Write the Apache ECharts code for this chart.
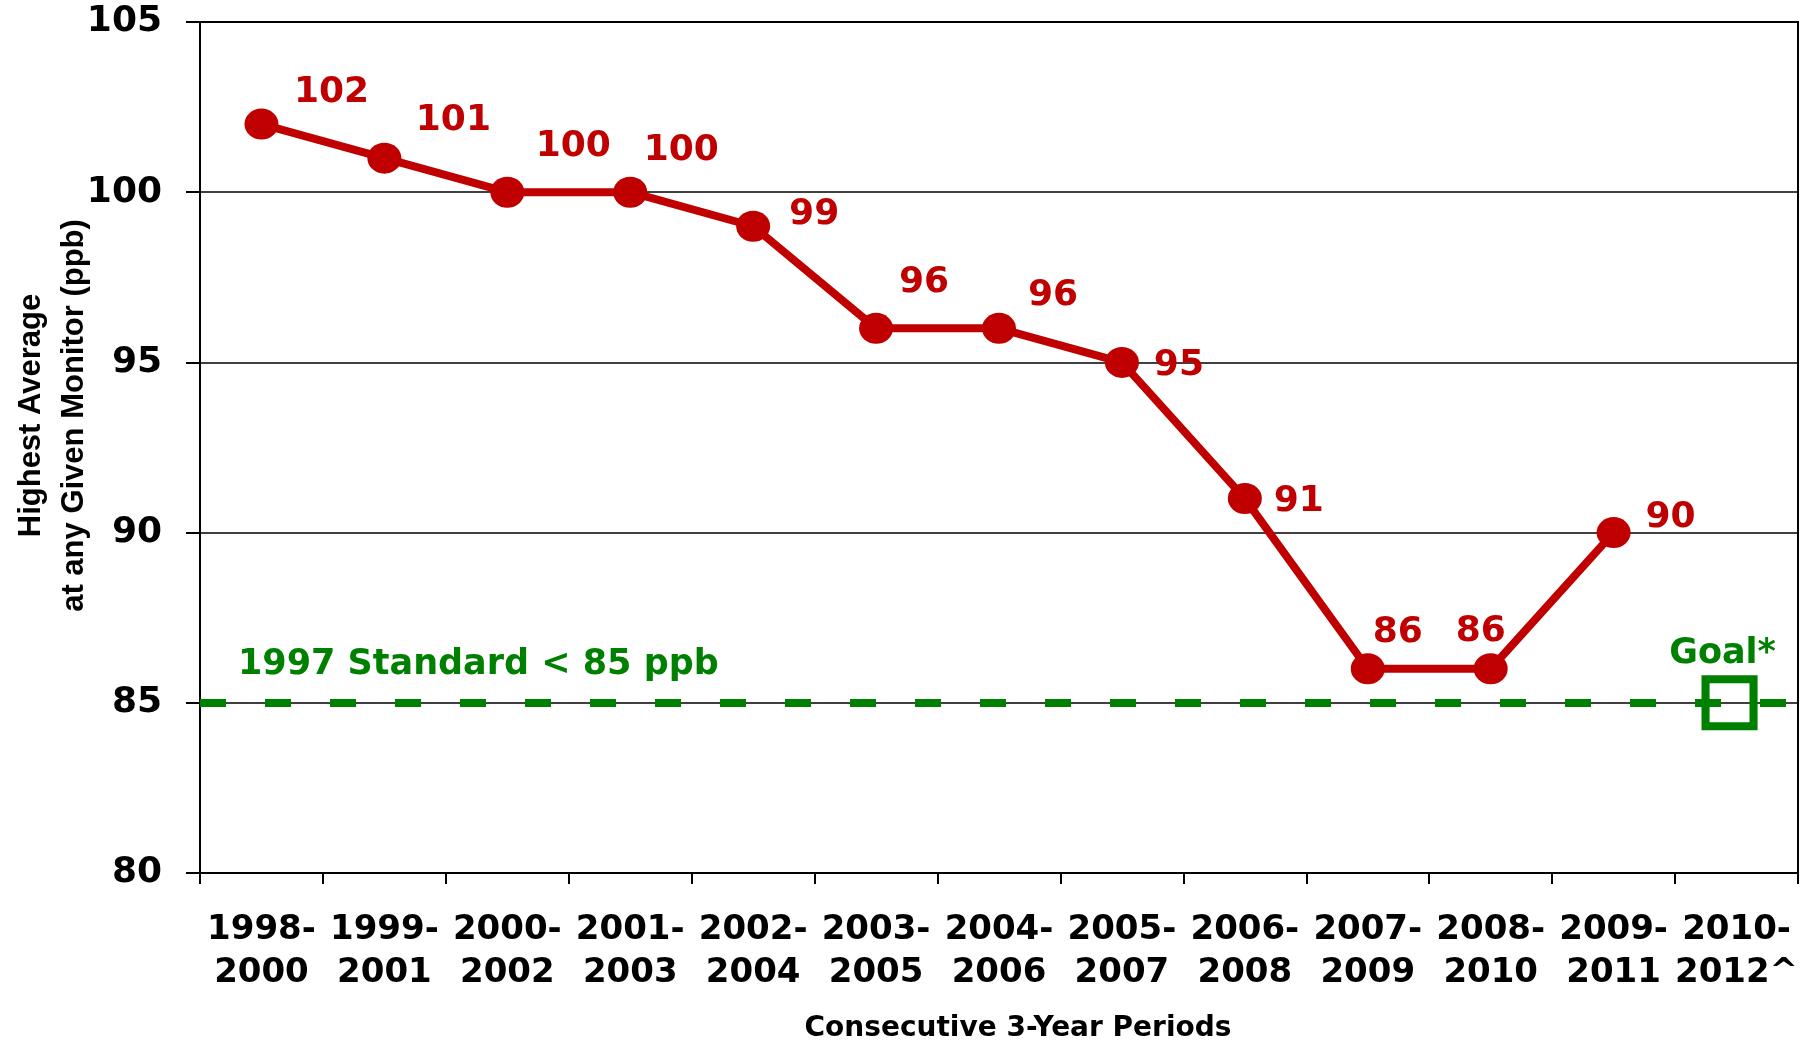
<!DOCTYPE html>
<html>
<head>
<meta charset="utf-8">
<script src="https://cdn.jsdelivr.net/npm/echarts@6/dist/echarts.min.js"></script>
<style>
  html, body { margin: 0; padding: 0; background: #fff; }
  #chart { width: 1810px; height: 1043px; }
</style>
</head>
<body>
<div id="chart"></div>
<script>
// periods on the x axis
const periods = [
  "1998-\n2000", "1999-\n2001", "2000-\n2002", "2001-\n2003", "2002-\n2004",
  "2003-\n2005", "2004-\n2006", "2005-\n2007", "2006-\n2008", "2007-\n2009",
  "2008-\n2010", "2009-\n2011", "2010-\n2012^"
];
// highest 3-yr average (ppb)
const highestAvg = [102, 101, 100, 100, 99, 96, 96, 95, 91, 86, 86, 90, null];
// goal point for last period
const goalValues = [null, null, null, null, null, null, null, null, null, null, null, null, 85];
const standardValue = 85;
const yTicks = { min: 80, max: 105, step: 5 };

// where each value label sits relative to its dot (style only)
const labelShift = [
  [70, -31], [69, -38], [66, -46], [51, -42], [61, -12], [48, -46],
  [54, -33], [57, 3], [54, 3], [30, -36], [-10, -37], [57, -15], [0, 0]
];

const red = "#C00000";
const green = "#008000";
// the original picture is stretched sideways, the wider DejaVu face gets close to that
const wide = "'DejaVu Sans', sans-serif";
const narrow = "'Liberation Sans', Arial, sans-serif";

const chart = echarts.init(document.getElementById("chart"));

const option = {
  animation: false,
  grid: {
    left: 200,
    right: 12,
    top: 22,
    bottom: 170,
    outerBoundsMode: "none",
    containLabel: false,
    show: true,
    borderColor: "#000",
    borderWidth: 2,
  },
  xAxis: {
    type: "category",
    data: periods,
    boundaryGap: true,
    name: "Consecutive 3-Year Periods",
    nameLocation: "middle",
    nameGap: 142,
    nameMoveOverlap: false,
    nameTextStyle: {
      fontFamily: wide,
      fontWeight: "bold",
      fontSize: 28,
      color: "#000",
      padding: [0, 0, 0, 38],
    },
    axisLine: { lineStyle: { color: "#000", width: 2 } },
    axisTick: { show: true, inside: false, length: 11, lineStyle: { color: "#000", width: 2 } },
    axisLabel: {
      interval: 0,
      margin: 36,
      fontFamily: wide,
      fontWeight: "bold",
      fontSize: 34,
      lineHeight: 43,
      color: "#000",
    },
    splitLine: { show: false },
  },
  yAxis: {
    type: "value",
    min: yTicks.min,
    max: yTicks.max,
    interval: yTicks.step,
    name: "Highest Average\nat any Given Monitor (ppb)",
    nameLocation: "middle",
    nameRotate: 90,
    nameGap: 104,
    nameMoveOverlap: false,
    nameTextStyle: {
      fontFamily: narrow,
      fontWeight: "bold",
      fontSize: 31,
      lineHeight: 43,
      color: "#000",
      padding: [0, 0, 0, 64],
    },
    axisLine: { show: true, lineStyle: { color: "#000", width: 2 } },
    axisTick: { show: true, inside: false, length: 14, lineStyle: { color: "#000", width: 2 } },
    axisLabel: {
      margin: 38,
      fontFamily: wide,
      fontWeight: "bold",
      fontSize: 36,
      color: "#000",
    },
    splitLine: { show: true, lineStyle: { color: "#000", width: 1.5 } },
  },
  series: [
    {
      name: "goal",
      type: "line",
      data: goalValues,
      z: 3,
      symbol: "rect",
      symbolSize: [48, 47],
      symbolOffset: [-7, 0],
      showSymbol: true,
      lineStyle: { width: 0 },
      itemStyle: { color: "rgba(0,0,0,0)", borderColor: green, borderWidth: 8 },
      label: {
        show: true,
        position: "top",
        distance: 4,
        offset: [-7, 0],
        formatter: "Goal*",
        fontFamily: wide,
        fontWeight: "bold",
        fontSize: 35,
        color: green,
      },
      markLine: {
        silent: true,
        symbol: "none",
        z: 2,
        lineStyle: { color: green, width: 8, type: [26, 39] },
        label: {
          show: true,
          position: "insideStartTop",
          distance: [38, 20],
          formatter: "1997 Standard < 85 ppb",
          fontFamily: wide,
          fontWeight: "bold",
          fontSize: 35,
          color: green,
        },
        data: [{ yAxis: standardValue }],
      },
    },
    {
      name: "highest",
      type: "line",
      data: highestAvg.map((v, i) => ({
        value: v,
        label: { offset: labelShift[i] },
      })),
      z: 5,
      symbol: "circle",
      symbolSize: [34, 31],
      lineStyle: { color: red, width: 8 },
      itemStyle: { color: red },
      label: {
        show: true,
        position: "inside",
        fontFamily: wide,
        fontWeight: "bold",
        fontSize: 36,
        color: red,
      },
    },
  ],
};

chart.setOption(option);

window.addEventListener("resize", function () {
  chart.resize();
});
</script>
</body>
</html>
